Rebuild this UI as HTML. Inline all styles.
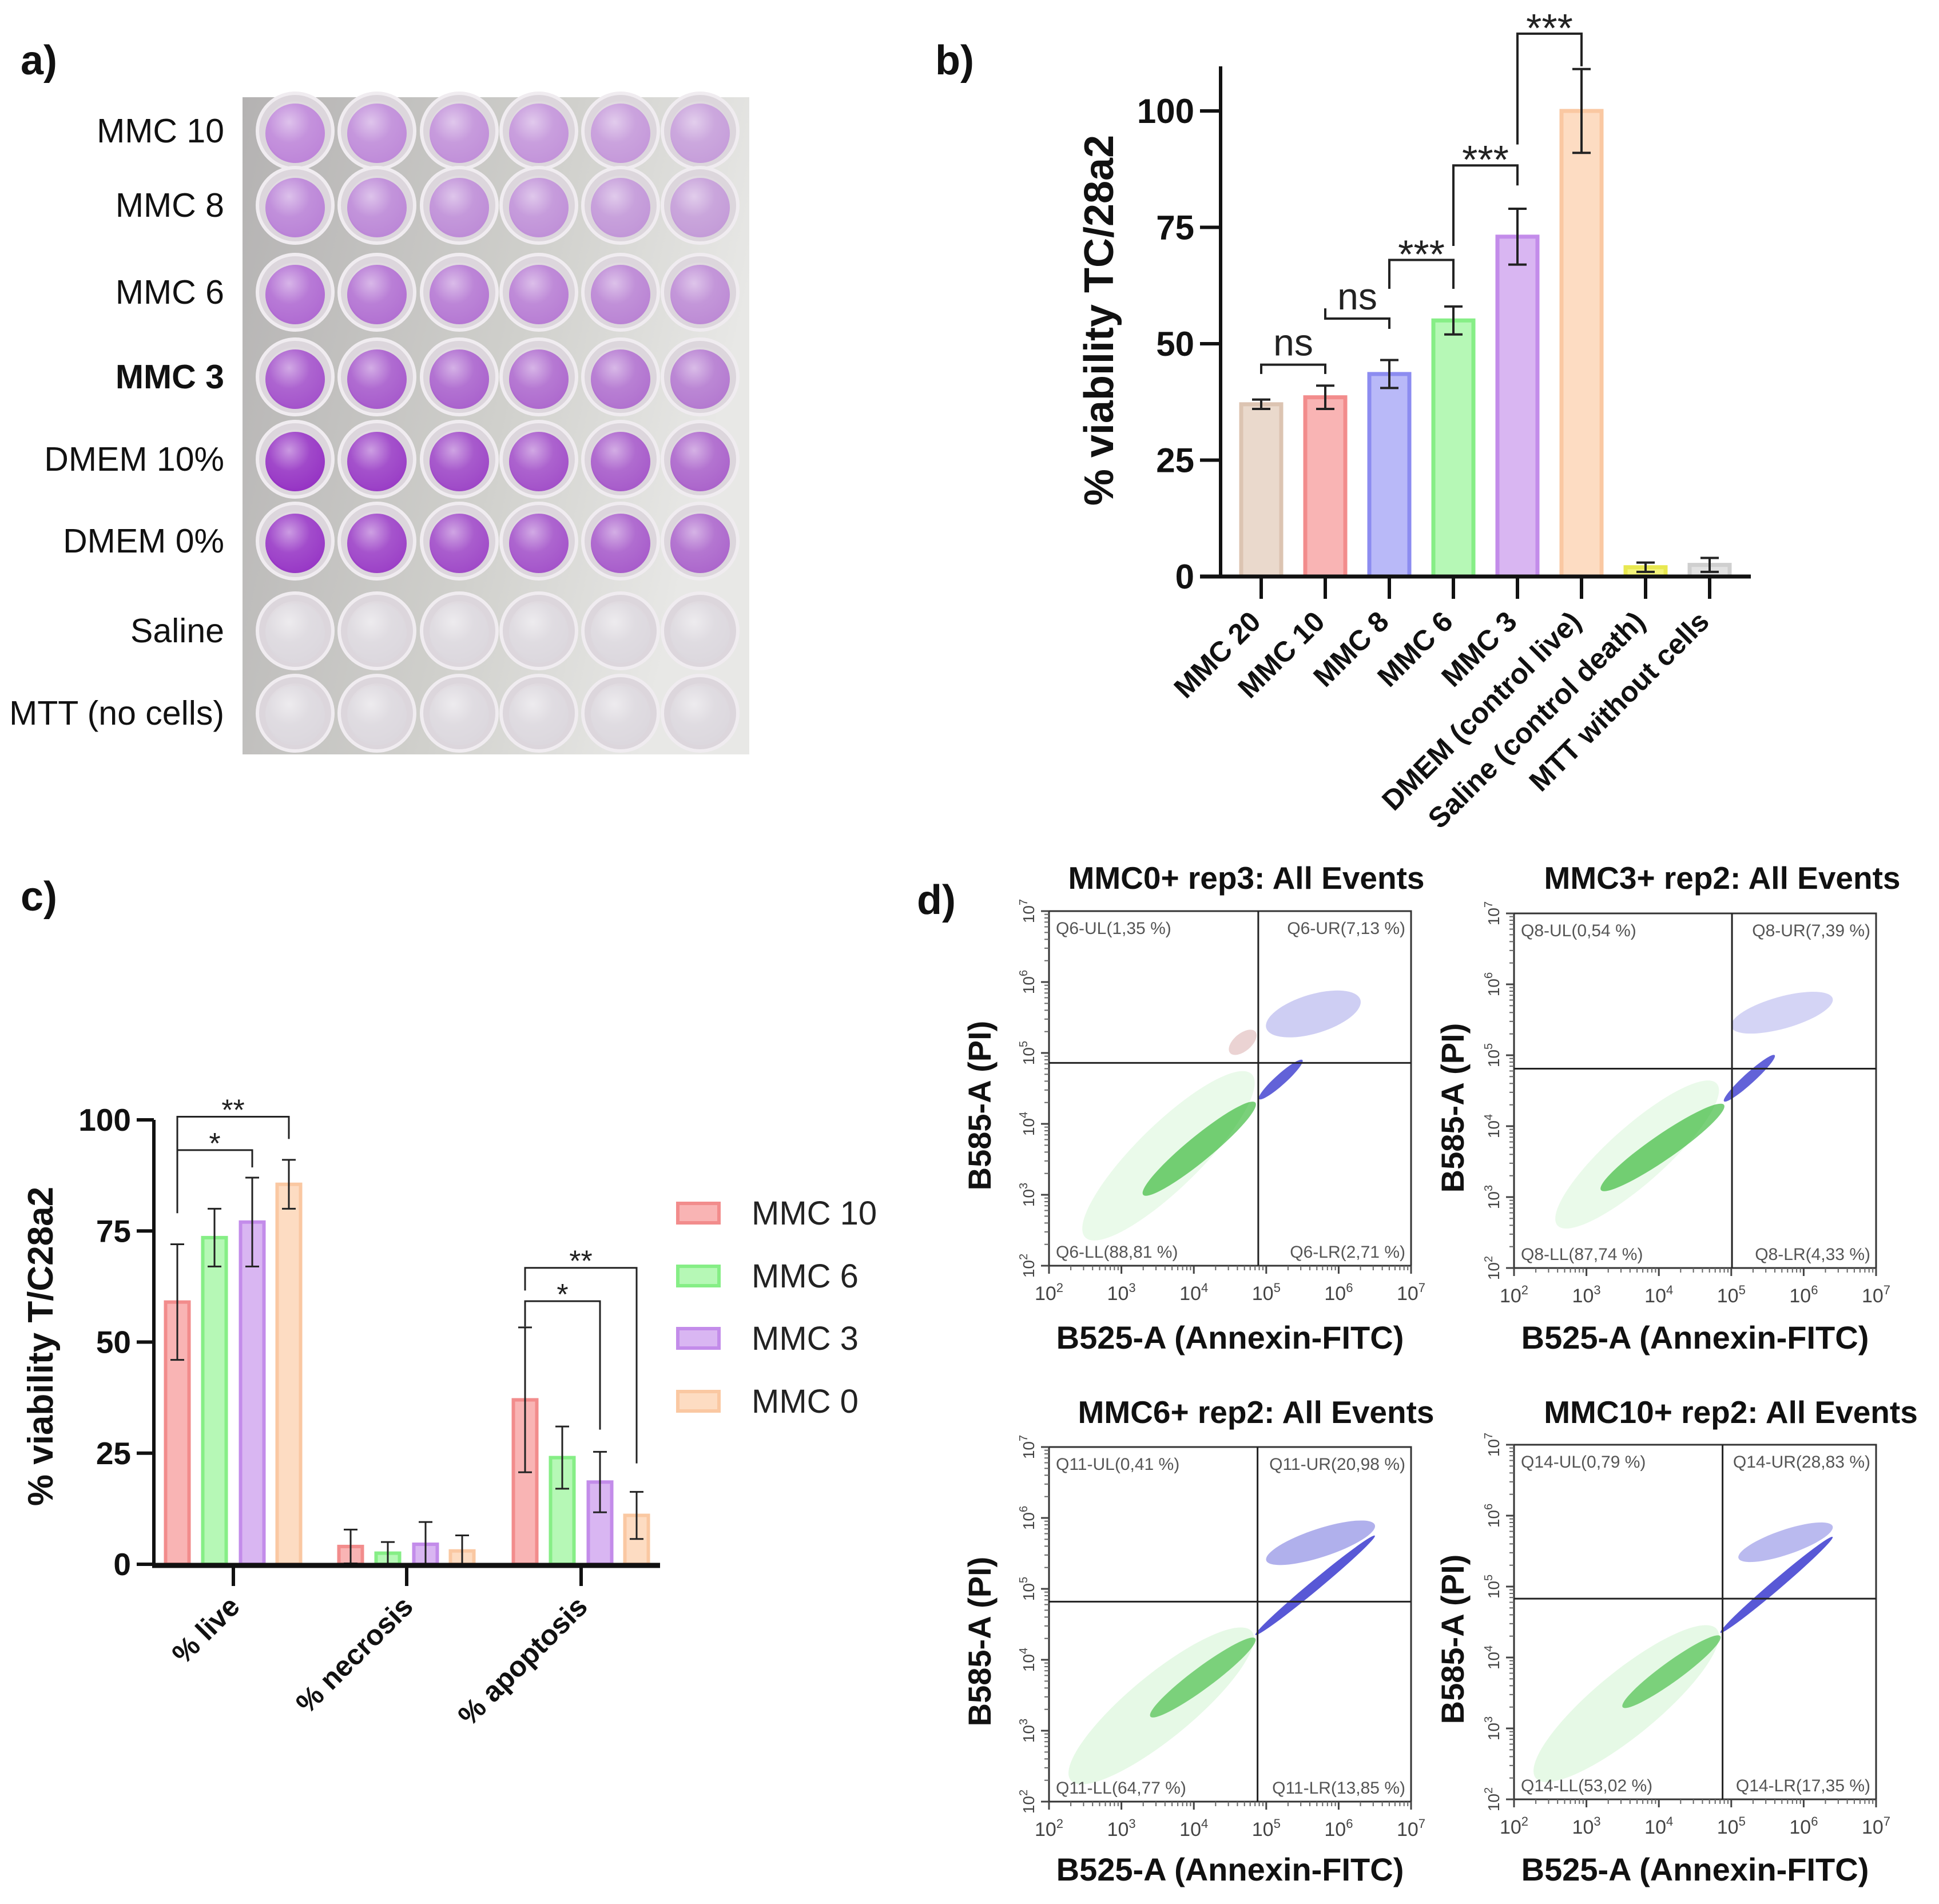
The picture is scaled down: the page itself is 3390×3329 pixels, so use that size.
<!DOCTYPE html>
<html><head><meta charset="utf-8"><title>MMC viability figure</title>
<style>html,body{margin:0;padding:0;background:#fff}svg{display:block}text{font-family:"Liberation Sans",Arial,sans-serif}</style>
</head><body>
<svg id="fig" xmlns="http://www.w3.org/2000/svg" width="3390" height="3329" viewBox="0 0 3390 3329">
<defs>
<linearGradient id="plateBg" x1="0" y1="0" x2="1" y2="0.3"><stop offset="0" stop-color="#b4b2b2"/><stop offset="0.6" stop-color="#d0d0cc"/><stop offset="1" stop-color="#e8e8e6"/></linearGradient>
<radialGradient id="wellShine" cx="0.4" cy="0.35" r="0.7"><stop offset="0" stop-color="#fff" stop-opacity="0.5"/><stop offset="0.5" stop-color="#fff" stop-opacity="0.1"/><stop offset="1" stop-color="#fff" stop-opacity="0"/></radialGradient>
</defs>
<g id="panelA"></g>
<g id="panelB"></g>
<g id="panelC"></g>
<g id="panelD"></g>
</svg>
<script>
// ---------- Panel B data ----------
const bCategories = ["MMC 20","MMC 10","MMC 8","MMC 6","MMC 3","DMEM (control live)","Saline (control death)","MTT without cells"];
const bValues = [37, 38.5, 43.5, 55, 73, 100, 2, 2.5];
const bErrLow = [36, 36, 40.5, 52, 67, 91, 1, 1];
const bErrHigh = [38, 41, 46.5, 58, 79, 109, 3, 4];
const bTicks = [0, 25, 50, 75, 100];
const bSigLabels = ["ns","ns","***","***","***"];
const bSigFrom = [0,1,2,3,4];
const bSigTo = [1,2,3,4,5];
const bSigLevel = [45.5, 55.4, 68, 88.3, 116.6];
const bSigLeftEnd = [43.5, 57.6, 61.8, 71, 92.8];
const bSigRightEnd = [43.5, 53.2, 61.8, 84, 109.6];

// ---------- Panel C data ----------
const cCategories = ["% live","% necrosis","% apoptosis"];
const cSeries = ["MMC 10","MMC 6","MMC 3","MMC 0"];
const cMMC10 = [59, 4, 37];
const cMMC6 = [73.5, 2.5, 24];
const cMMC3 = [77, 4.5, 18.5];
const cMMC0 = [85.5, 3, 11];
const cErr10 = [13, 3.8, 16.3];
const cErr6 = [6.5, 2.5, 7];
const cErr3 = [10, 5, 6.8];
const cErr0 = [5.5, 3.5, 5.3];
const cTicks = [0, 25, 50, 75, 100];
const cSigLabels = ["**","*","**","*"];
const cSigGroup = [0,0,2,2];
const cSigFrom = [0,0,0,0];
const cSigTo = [3,2,3,2];
const cSigLevel = [100.7, 93.2, 66.7, 59.2];
const cSigLeftEnd = [79, 79, 61.6, 53.5];
const cSigRightEnd = [95.7, 89.3, 22.7, 30.3];

// ---------- Panel D data (log10 units) ----------
const dTitles = ["MMC0+ rep3: All Events","MMC3+ rep2: All Events","MMC6+ rep2: All Events","MMC10+ rep2: All Events"];
const dQuadLabels = [
 ["Q6-UL(1,35 %)","Q6-UR(7,13 %)","Q6-LL(88,81 %)","Q6-LR(2,71 %)"],
 ["Q8-UL(0,54 %)","Q8-UR(7,39 %)","Q8-LL(87,74 %)","Q8-LR(4,33 %)"],
 ["Q11-UL(0,41 %)","Q11-UR(20,98 %)","Q11-LL(64,77 %)","Q11-LR(13,85 %)"],
 ["Q14-UL(0,79 %)","Q14-UR(28,83 %)","Q14-LL(53,02 %)","Q14-LR(17,35 %)"]];
const dGateX = [4.89, 5.01, 4.88, 4.88];
const dGateY = [4.86, 4.81, 4.82, 4.83];
const dCloudPlot = [0,0,0,0,0, 1,1,1,1, 2,2,2,2, 3,3,3,3];
const dCloudX1 = [2.5,3.3,4.9,5.0,4.5, 2.6,3.2,4.9,5.0, 2.3,3.4,4.85,5.0, 2.3,3.5,4.85,5.1];
const dCloudY1 = [2.4,3.0,4.35,5.35,5.0, 2.6,3.1,4.35,5.4, 2.3,3.2,4.35,5.4, 2.3,3.3,4.35,5.4];
const dCloudX2 = [4.8,4.85,5.5,6.3,4.85, 4.8,4.9,5.6,6.4, 4.8,4.85,6.5,6.5, 4.8,4.85,6.4,6.4];
const dCloudY2 = [4.7,4.3,4.9,5.75,5.3, 4.6,4.3,5.0,5.8, 4.4,4.3,5.75,5.9, 4.4,4.3,5.7,5.85];
const dCloudW = [0.9,0.35,0.15,0.55,0.25, 0.8,0.35,0.15,0.45, 0.9,0.3,0.14,0.4, 0.9,0.28,0.14,0.35];
const dCloudColor = ["#33cc33","#22b022","#2020c8","#3a3ad0","#b05050", "#33cc33","#22b022","#2020c8","#3a3ad0", "#33cc33","#22b022","#2020c8","#3a3ad0", "#33cc33","#22b022","#2020c8","#3a3ad0"];
const dCloudOp = [0.1,0.6,0.7,0.25,0.25, 0.1,0.6,0.7,0.22, 0.12,0.55,0.75,0.4, 0.12,0.55,0.75,0.35];

// ---------- Panel A data ----------
const aRowLabels = ["MMC 10","MMC 8","MMC 6","MMC 3","DMEM 10%","DMEM 0%","Saline","MTT (no cells)"];
const aRowColors = ["#b878d8","#b474d6","#a858d0","#9a3cc8","#8a18c0","#8c1cc2","#dcd8de","#dcd8de"];

const NS = "http://www.w3.org/2000/svg";
function mk(parent, tag, attrs, text){
  const e = document.createElementNS(NS, tag);
  for (const k in attrs) e.setAttribute(k, attrs[k]);
  if (text !== undefined) e.textContent = text;
  parent.appendChild(e);
  return e;
}

const svg = document.getElementById('fig');
[["a)",36,130],["b)",1635,130],["c)",36,1592],["d)",1603,1598]].forEach(p=>{
  const t = mk(svg,'text',{x:p[1],y:p[2],'font-size':72,'font-weight':'bold',fill:'#111'},p[0]);
  
  
});

// ===== Panel A =====
(function(){
  const g = document.getElementById('panelA');
  const bg = mk(g,'rect',{x:424,y:170,width:886,height:1149,fill:'url(#plateBg)'});
  
  
  const cols=[516,659,803,942,1085,1224], rows=[229,359,511,659,803,946,1103,1247];
  rows.forEach((cy,ri)=>{
    cols.forEach((cx,ci)=>{
      const w = mk(g,'g',{});
      
      
      mk(w,'circle',{cx:cx,cy:cy,r:66,fill:'#dcd6dc',stroke:'#f0ecf0','stroke-width':6});
      mk(w,'circle',{cx:cx,cy:cy+4,r:52,fill:aRowColors[ri],opacity:ri>5?0.9:(0.85-ci*0.05)});
      mk(w,'circle',{cx:cx,cy:cy,r:52,fill:'url(#wellShine)'});
    });
    const t = mk(g,'text',{x:392,y:cy+20,'text-anchor':'end','font-size':59,fill:'#111','font-weight':ri===3?'bold':'normal'},aRowLabels[ri]);
    
    
  });
})();

// ===== Panel B =====
(function(){
  const g = document.getElementById('panelB');
  const x0 = 2134, yZero = 1008, y100 = 194;
  const step = 112, first = 2205, bw = 70;
  const yS = v => yZero - (v/100)*(yZero-y100);
  const xS = i => first + i*step;
  const fills = ["#ead9cc","#f9b4b4","#b9b9f8","#b6f8b6","#d9b6f2","#fddcc2","#f4f47a","#e2e2e2"];
  const strokes = ["#dcc4b2","#f28c8c","#8c8cf0","#86ee86","#c38cea","#fac8a2","#e8e850","#cfcfcf"];
  bValues.forEach((v,i)=>{
    const r = mk(g,'rect',{x:xS(i)-bw/2,y:yS(v),width:bw,height:yZero-yS(v),fill:fills[i],stroke:strokes[i],'stroke-width':7});
    
    
    const eb = mk(g,'g',{stroke:'#222','stroke-width':4});
    
    
    mk(eb,'line',{x1:xS(i),x2:xS(i),y1:yS(bErrLow[i]),y2:yS(bErrHigh[i])});
    mk(eb,'line',{x1:xS(i)-16,x2:xS(i)+16,y1:yS(bErrLow[i]),y2:yS(bErrLow[i])});
    mk(eb,'line',{x1:xS(i)-16,x2:xS(i)+16,y1:yS(bErrHigh[i]),y2:yS(bErrHigh[i])});
  });
  const ya = mk(g,'line',{x1:x0,x2:x0,y1:116,y2:yZero+3,stroke:'#111','stroke-width':6});
   
  const xa = mk(g,'line',{x1:x0-36,x2:3061,y1:yZero,y2:yZero,stroke:'#111','stroke-width':7});
   
  bTicks.forEach(t=>{
    mk(g,'line',{x1:x0-36,x2:x0,y1:yS(t),y2:yS(t),stroke:'#111','stroke-width':6});
    const tl = mk(g,'text',{x:x0-46,y:yS(t)+21,'text-anchor':'end','font-size':60,'font-weight':'bold',fill:'#111'},String(t));
     
  });
  bCategories.forEach((c,i)=>{
    mk(g,'line',{x1:xS(i),x2:xS(i),y1:yZero,y2:1047,stroke:'#111','stroke-width':6});
    const tl = mk(g,'text',{x:xS(i)+2,y:1090,'text-anchor':'end','font-size':50,'font-weight':'bold',fill:'#111',transform:`rotate(-45 ${xS(i)+2} 1090)`},c);
     
  });
  const yt = mk(g,'text',{x:1946,y:560,'text-anchor':'middle','font-size':72,'font-weight':'bold',fill:'#111',transform:'rotate(-90 1946 560)','xml:space':'preserve'},'% viability  TC/28a2');
   
  bSigLabels.forEach((s,k)=>{
    const xa1 = xS(bSigFrom[k]), xa2 = xS(bSigTo[k]), yl = yS(bSigLevel[k]);
    const sg = mk(g,'g',{});
     
    mk(sg,'path',{d:`M${xa1} ${yS(bSigLeftEnd[k])} L${xa1} ${yl} L${xa2} ${yl} L${xa2} ${yS(bSigRightEnd[k])}`,fill:'none',stroke:'#222','stroke-width':4});
    if (s==='ns') mk(sg,'text',{x:(xa1+xa2)/2,y:yl-16,'text-anchor':'middle','font-size':66,fill:'#222'},s);
    else mk(sg,'text',{x:(xa1+xa2)/2,y:yl+14,'text-anchor':'middle','font-size':70,fill:'#222'},s);
  });
})();

// ===== Panel C =====
(function(){
  const g = document.getElementById('panelC');
  const x0 = 269, yZero = 2735, y100 = 1958;
  const yS = v => yZero - (v/100)*(yZero-y100);
  const catX = [408, 711, 1016];
  const offs = [-98,-33,33,97];
  const bw = 41;
  const vals = [cMMC10,cMMC6,cMMC3,cMMC0];
  const errs = [cErr10,cErr6,cErr3,cErr0];
  const fills = ["#f9b4b4","#b6f8b6","#d9b6f2","#fddcc2"];
  const strokes = ["#f28c8c","#86ee86","#c38cea","#fac8a2"];
  vals.forEach((arr,s)=>{
    arr.forEach((v,c)=>{
      const cx = catX[c]+offs[s];
      const r = mk(g,'rect',{x:cx-bw/2,y:yS(v),width:bw,height:yZero-yS(v),fill:fills[s],stroke:strokes[s],'stroke-width':6});
      
      
      const lo = Math.max(0,v-errs[s][c]), hi = v+errs[s][c];
      const eb = mk(g,'g',{stroke:'#222','stroke-width':3});
       
      mk(eb,'line',{x1:cx,x2:cx,y1:yS(lo),y2:yS(hi)});
      mk(eb,'line',{x1:cx-12,x2:cx+12,y1:yS(lo),y2:yS(lo)});
      mk(eb,'line',{x1:cx-12,x2:cx+12,y1:yS(hi),y2:yS(hi)});
    });
  });
  const ya = mk(g,'line',{x1:x0,x2:x0,y1:y100,y2:yZero,stroke:'#111','stroke-width':6});
   
  const xa = mk(g,'line',{x1:x0-3,x2:1154,y1:yZero+2,y2:yZero+2,stroke:'#111','stroke-width':9});
   
  cTicks.forEach(t=>{
    mk(g,'line',{x1:x0-30,x2:x0,y1:yS(t),y2:yS(t),stroke:'#111','stroke-width':6});
    const tl = mk(g,'text',{x:x0-40,y:yS(t)+19,'text-anchor':'end','font-size':55,'font-weight':'bold',fill:'#111'},String(t));
     
  });
  cCategories.forEach((c,i)=>{
    mk(g,'line',{x1:catX[i],x2:catX[i],y1:yZero,y2:2773,stroke:'#111','stroke-width':6});
    const tl = mk(g,'text',{x:catX[i]+14,y:2812,'text-anchor':'end','font-size':50,'font-weight':'bold',fill:'#111',transform:`rotate(-45 ${catX[i]+14} 2812)`},c);
     
  });
  const yt = mk(g,'text',{x:92,y:2354,'text-anchor':'middle','font-size':62,'font-weight':'bold',fill:'#111',transform:'rotate(-90 92 2354)','xml:space':'preserve'},'% viability  T/C28a2');
   
  cSigLabels.forEach((s,k)=>{
    const xa1 = catX[cSigGroup[k]]+offs[cSigFrom[k]], xa2 = catX[cSigGroup[k]]+offs[cSigTo[k]], yl = yS(cSigLevel[k]);
    const sg = mk(g,'g',{});
     
    mk(sg,'path',{d:`M${xa1} ${yS(cSigLeftEnd[k])} L${xa1} ${yl} L${xa2} ${yl} L${xa2} ${yS(cSigRightEnd[k])}`,fill:'none',stroke:'#222','stroke-width':3});
    mk(sg,'text',{x:(xa1+xa2)/2,y:yl+6,'text-anchor':'middle','font-size':52,fill:'#222'},s);
  });
  const legY = [2121,2231,2340,2450];
  cSeries.forEach((s,i)=>{
    const lg = mk(g,'g',{});
     
    mk(lg,'rect',{x:1185,y:legY[i]-17,width:72,height:34,fill:fills[i],stroke:strokes[i],'stroke-width':6});
    mk(lg,'text',{x:1314,y:legY[i]+20,'font-size':58,fill:'#222'},s);
  });
})();

// ===== Panel D =====
(function(){
  const g = document.getElementById('panelD');
  const lefts = [1834, 2647, 1834, 2647], tops = [1593, 1597, 2530, 2526];
  const W = 633, H = 620;
  const titleX = [2179, 3011, 2196, 3026], titleY = [1554, 1554, 2488, 2488];
  const xTitleY = [2338, 2338, 3268, 3268];
  const yTitleX = [1712, 2539, 1712, 2539];
  for (let p=0;p<4;p++){
    const L = lefts[p], T = tops[p];
    const xS = lx => L + (lx-2)/5*W;
    const yS = ly => T + H - (ly-2)/5*H;
    const pg = mk(g,'g',{});
     
    const clip = mk(svg.querySelector('defs'),'clipPath',{id:'clip'+p});
    mk(clip,'rect',{x:L,y:T,width:W,height:H});
    const cg = mk(pg,'g',{'clip-path':`url(#clip${p})`});
    dCloudPlot.forEach((pp,k)=>{
      if (pp!==p) return;
      const x1=xS(dCloudX1[k]), y1=yS(dCloudY1[k]), x2=xS(dCloudX2[k]), y2=yS(dCloudY2[k]);
      const len = Math.hypot(x2-x1,y2-y1), ang = Math.atan2(y2-y1,x2-x1)*180/Math.PI;
      const th = dCloudW[k]/5*H;
      const e = mk(cg,'ellipse',{cx:(x1+x2)/2,cy:(y1+y2)/2,rx:len/2,ry:th/2,fill:dCloudColor[k],opacity:dCloudOp[k],transform:`rotate(${ang} ${(x1+x2)/2} ${(y1+y2)/2})`});
       
    });
    const fr = mk(pg,'rect',{x:L,y:T,width:W,height:H,fill:'none',stroke:'#333','stroke-width':3});
     
    mk(pg,'line',{x1:xS(dGateX[p]),x2:xS(dGateX[p]),y1:T,y2:T+H,stroke:'#222','stroke-width':3});
    mk(pg,'line',{x1:L,x2:L+W,y1:yS(dGateY[p]),y2:yS(dGateY[p]),stroke:'#222','stroke-width':3});
    for (let d=2; d<=7; d++){
      mk(pg,'line',{x1:xS(d),x2:xS(d),y1:T+H,y2:T+H+14,stroke:'#444','stroke-width':3});
      mk(pg,'line',{x1:L-14,x2:L,y1:yS(d),y2:yS(d),stroke:'#444','stroke-width':3});
      if (d<7) for (let m=2;m<10;m++){
        const lm = d+Math.log10(m);
        mk(pg,'line',{x1:xS(lm),x2:xS(lm),y1:T+H,y2:T+H+8,stroke:'#666','stroke-width':2});
        mk(pg,'line',{x1:L-8,x2:L,y1:yS(lm),y2:yS(lm),stroke:'#666','stroke-width':2});
      }
      const xl = mk(pg,'text',{x:xS(d),y:T+H+60,'text-anchor':'middle','font-size':34,fill:'#444'});
       
      mk(xl,'tspan',{},'10'); mk(xl,'tspan',{dy:-14,'font-size':22},String(d));
      const yx = L-26, yy = yS(d);
      const yl = mk(pg,'text',{x:yx,y:yy,'text-anchor':'middle','font-size':28,fill:'#444',transform:`rotate(-90 ${yx} ${yy})`});
       
      mk(yl,'tspan',{},'10'); mk(yl,'tspan',{dy:-12,'font-size':20},String(d));
    }
    const q = dQuadLabels[p];
    [[q[0],L+12,T+40,'start'],[q[1],L+W-10,T+40,'end'],[q[2],L+12,T+H-14,'start'],[q[3],L+W-10,T+H-14,'end']].forEach(a=>{
      const t = mk(pg,'text',{x:a[1],y:a[2],'text-anchor':a[3],'font-size':30,fill:'#555'},a[0]);
       
    });
    const tt = mk(pg,'text',{x:titleX[p],y:titleY[p],'text-anchor':'middle','font-size':55,'font-weight':'bold',fill:'#111'},dTitles[p]);
     
    const xt = mk(pg,'text',{x:L+W/2,y:xTitleY[p]+20,'text-anchor':'middle','font-size':56,'font-weight':'bold',fill:'#111'},'B525-A (Annexin-FITC)');
     
    const yc = T+H/2+30;
    const yt = mk(pg,'text',{x:yTitleX[p]+20,y:yc,'text-anchor':'middle','font-size':56,'font-weight':'bold',fill:'#111',transform:`rotate(-90 ${yTitleX[p]+20} ${yc})`},'B585-A (PI)');
     
  }
})();
</script>
</body></html>
